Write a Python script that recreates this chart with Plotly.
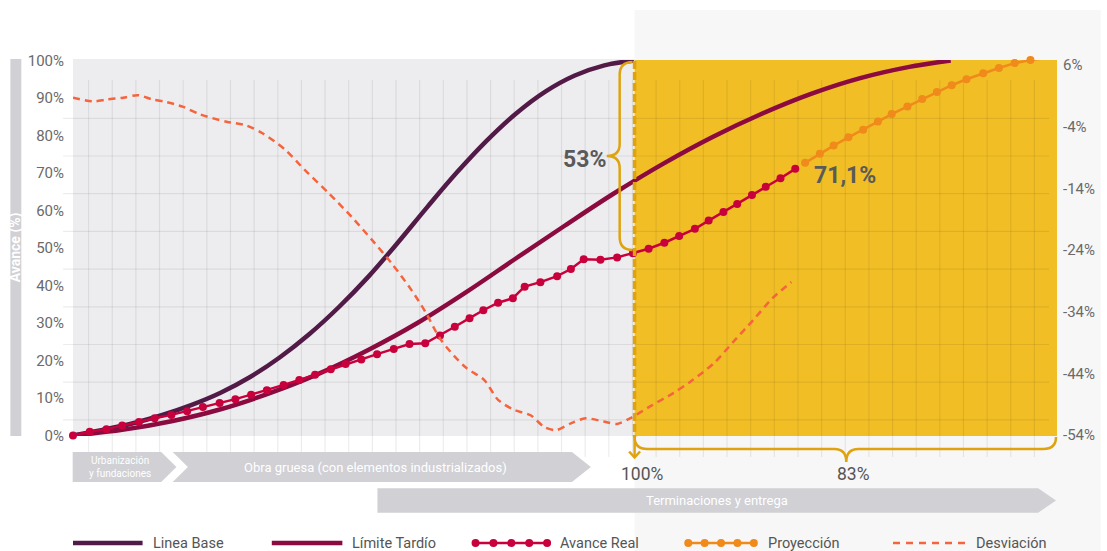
import plotly.graph_objects as go

# ---------------- data ----------------
# x = elapsed time of the project (% of the total time window shown)
tiempo_base = [0, 3, 6, 9, 12, 15, 18, 21, 24, 27, 30, 33, 36, 39, 42, 45, 48, 51, 54, 57]
linea_base = [0, 1.5, 3.2, 5.4, 8.1, 11.4, 15.6, 20.8, 27.0, 34.2, 42.3, 51.4, 60.9, 70.1,
              78.5, 85.8, 91.7, 96.0, 98.7, 100]

tiempo_limite = [0, 5, 10, 15, 20, 25, 30, 35, 40, 45, 50, 55, 60, 65, 70, 75, 80, 85, 89.2]
limite_tardio = [0, 1.5, 3.8, 7.0, 11.3, 16.5, 22.8, 30.0, 38.3, 47.2, 56.0, 64.6, 72.5,
                 79.6, 85.8, 91.1, 95.3, 98.3, 100]

tiempo_real = [0, 1.7, 3.4, 5.0, 6.7, 8.3, 10.0, 11.6, 13.2, 14.9,
               16.5, 18.1, 19.7, 21.4, 23.0, 24.6, 26.2, 27.7, 29.3, 30.9,
               32.6, 34.2, 35.8, 37.3, 38.8, 40.3, 41.7, 43.2, 44.7, 45.9,
               47.5, 49.2, 50.6, 51.9, 53.6, 55.3, 56.9, 58.5, 60.1, 61.6,
               63.2, 64.6, 66.1, 67.5, 69.0, 70.4, 71.9, 73.4]
avance_real = [0, 1.0, 1.7, 2.7, 3.6, 4.6, 5.5, 6.5, 7.6, 8.7,
               9.7, 10.9, 12.1, 13.5, 14.8, 16.2, 17.7, 19.1, 20.3, 21.7,
               23.1, 24.4, 24.6, 26.7, 29.0, 31.3, 33.4, 35.4, 36.6, 39.7,
               40.9, 42.5, 44.4, 47.0, 46.9, 47.5, 48.6, 49.8, 51.4, 53.2,
               55.1, 57.3, 59.6, 61.7, 64.1, 66.3, 68.6, 71.1]

tiempo_proy = [74.4, 75.9, 77.3, 78.8, 80.3, 81.8, 83.2, 84.8, 86.3, 87.8, 89.3,
               90.8, 92.5, 94.1, 95.7, 97.3, 99.0]
proyeccion = [72.7, 75.1, 77.3, 79.5, 81.5, 83.7, 85.7, 87.7, 89.7, 91.6, 93.4,
              95.0, 96.6, 98.0, 99.3, 100.1, 100.7]

tiempo_desv = [0, 2.1, 3.4, 5.1, 6.6, 8.1, 9.5, 11.2, 12.9, 15.6,
               17.6, 19.3, 21.6, 23.6, 26.0, 28.3, 30.4, 32.4, 34.4, 35.8,
               37.4, 39.8, 41.8, 43.2, 44.8, 46.5, 47.9, 49.1, 50.6, 52.1,
               53.9, 55.3, 56.6, 58.6, 61.0, 62.7, 65.1, 67.1, 69.1, 71.1, 73.0]
desviacion = [0.7, 0.1, 0.4, 0.7, 1.1, 0.4, 0.0, -0.8, -2.0, -3.2,
              -3.8, -5.1, -7.8, -11.1, -14.8, -18.6, -22.4, -26.2, -30.5, -34.0,
              -38.6, -42.9, -45.1, -48.3, -49.9, -50.8, -52.7, -53.2, -52.1, -51.3,
              -51.8, -52.2, -51.3, -49.4, -47.2, -45.4, -42.4, -38.9, -35.4, -31.8, -29.2]

left_ticks = [0, 10, 20, 30, 40, 50, 60, 70, 80, 90, 100]
right_ticks = [-54, -44, -34, -24, -14, -4, 6]

fases = ["Urbanización<br>y fundaciones",
         "Obra gruesa (con elementos industrializados)",
         "Terminaciones y entrega"]
series_names = ["Linea Base", "Límite Tardío", "Avance Real", "Proyección", "Desviación"]
brecha_label = "53%"
real_label = "71,1%"
base_fin_label = "100%"
restante_label = "83%"
eje_titulo = "Avance (%)"

# ---------------- styles ----------------
C_BASE = "#521a47"
C_LIM = "#8b0a40"
C_REAL = "#c8003c"
C_PROY = "#ef8a1b"
C_DESV = "#f5643c"
C_YEL = "#f1be26"
C_GOLD = "#dea30f"
C_GRAYBG = "#ededf0"
C_LIGHT = "#f7f7f7"
C_PHASE = "#d0d0d5"
FONT = "Roboto, 'Open Sans', sans-serif"

W, H = 1107, 551
PL, PR, PT, PB = 73, 1063, 60, 436


def fx(p):
    return (p - PL) / (PR - PL)


def fy(p):
    return (PB - p) / (PB - PT)


def pt(x, y):
    return f"{fx(x):.5f},{fy(y):.5f}"


def rect(x0, y0, x1, y1, color, layer="below"):
    return dict(type="rect", xref="paper", yref="paper", x0=fx(x0), x1=fx(x1),
                y0=fy(y1), y1=fy(y0), fillcolor=color, line=dict(width=0), layer=layer)


def seg(x0, y0, x1, y1, color, width, dash="solid", layer="below"):
    return dict(type="line", xref="paper", yref="paper", x0=fx(x0), x1=fx(x1),
                y0=fy(y0), y1=fy(y1), line=dict(color=color, width=width, dash=dash), layer=layer)


def poly(points, color, layer="below"):
    d = "M " + " L ".join(pt(x, y) for x, y in points) + " Z"
    return dict(type="path", xref="paper", yref="paper", path=d, fillcolor=color,
                line=dict(width=0), layer=layer)


def curve(d, color, width, layer="above"):
    return dict(type="path", xref="paper", yref="paper", path=d,
                line=dict(color=color, width=width), layer=layer)


def dot(cx, cy, r, color):
    return dict(type="circle", xref="paper", yref="paper", x0=fx(cx - r), x1=fx(cx + r),
                y0=fy(cy + r), y1=fy(cy - r), fillcolor=color, line=dict(width=0), layer="above")


shapes = []
# background panels
shapes.append(rect(638, 10, 1107, 551, C_LIGHT))
shapes.append(rect(73, 59, 638, 436, C_GRAYBG))
shapes.append(rect(638, 60, 1063, 436, C_YEL))
# decorative grid
GRID = "rgba(0,0,0,0.075)"
for k in range(9):
    yy = 118.3 + 37.7 * k
    shapes.append(seg(63, yy, 1055, yy, GRID, 1.2))
for k in range(41):
    xx = 88.7 + 23.79 * k
    shapes.append(seg(xx, 80, xx, 457, GRID, 1.2))
# phase arrows
shapes.append(poly([(72.7, 452), (161.7, 452), (177, 467), (161.7, 482), (72.7, 482)], C_PHASE))
shapes.append(poly([(173.3, 452), (575, 452), (594, 467), (575, 482), (173.3, 482), (188.6, 467)], C_PHASE))
shapes.append(poly([(379.3, 488.3), (1044, 488.3), (1062, 500.5), (1044, 512.7), (379.3, 512.7)], C_PHASE))
# y-axis title bar
shapes.append(rect(10, 59, 21, 436, C_PHASE))

# gold markers (dashed divider, braces, arrow)
shapes.append(seg(638, 61, 638, 437, C_GOLD, 3.5, dash="8px,3px", layer="above"))
shapes.append(seg(638, 437, 638, 457, C_GOLD, 2.5, layer="above"))
shapes.append(curve(f"M {pt(632.5, 451.5)} L {pt(638, 457.5)} L {pt(643.5, 451.5)}", C_GOLD, 2.5))
shapes.append(curve(
    f"M {pt(638, 437)} Q {pt(638, 449)} {pt(651, 449)} L {pt(839, 449)} "
    f"Q {pt(851, 449)} {pt(851, 462)} Q {pt(851, 449)} {pt(863, 449)} "
    f"L {pt(1049, 449)} Q {pt(1062, 449)} {pt(1062, 437)}", C_GOLD, 2.5))
shapes.append(curve(
    f"M {pt(636, 62)} Q {pt(623, 62)} {pt(623, 75)} L {pt(623, 144)} "
    f"Q {pt(623, 156)} {pt(610, 156)} Q {pt(623, 156)} {pt(623, 168)} "
    f"L {pt(623, 237)} Q {pt(623, 250)} {pt(636, 250)}", C_GOLD, 2.5))

# legend samples
LY = 543
shapes.append(seg(73, LY, 143, LY, C_BASE, 4.5, layer="above"))
shapes.append(seg(273, LY, 344, LY, C_LIM, 4.5, layer="above"))
shapes.append(seg(478, LY, 550, LY, C_REAL, 2.5, layer="above"))
for i in range(5):
    shapes.append(dot(478 + 18 * i, LY, 4, C_REAL))
shapes.append(seg(692, LY, 758, LY, C_PROY, 2.5, layer="above"))
for i in range(5):
    shapes.append(dot(692 + 16.5 * i, LY, 4, C_PROY))
shapes.append(seg(898, LY, 972, LY, C_DESV, 2.5, dash="7px,6px", layer="above"))

# ---------------- traces ----------------
fig = go.Figure()
common = dict(hoverinfo="skip", showlegend=False, cliponaxis=False)
fig.add_trace(go.Scatter(x=tiempo_base, y=linea_base, mode="lines", name=series_names[0],
                         line=dict(color=C_BASE, width=4.5, shape="spline", smoothing=1.0), **common))
fig.add_trace(go.Scatter(x=tiempo_limite, y=limite_tardio, mode="lines", name=series_names[1],
                         line=dict(color=C_LIM, width=4.5, shape="spline", smoothing=1.0), **common))
fig.add_trace(go.Scatter(x=tiempo_real, y=avance_real, mode="lines+markers", name=series_names[2],
                         line=dict(color=C_REAL, width=2.5), marker=dict(color=C_REAL, size=8), **common))
fig.add_trace(go.Scatter(x=tiempo_proy, y=proyeccion, mode="lines+markers", name=series_names[3],
                         line=dict(color=C_PROY, width=2.5), marker=dict(color=C_PROY, size=8), **common))
fig.add_trace(go.Scatter(x=tiempo_desv, y=desviacion, mode="lines", name=series_names[4], yaxis="y2",
                         line=dict(color=C_DESV, width=2.5, dash="7px,5px", shape="spline", smoothing=0.8),
                         **common))

# ---------------- annotations ----------------
ann = []


def text(x, y, s, size, color="#5f5f5f", anchor="center", bold=False, angle=0):
    ann.append(dict(xref="paper", yref="paper", x=fx(x), y=fy(y), text=f"<b>{s}</b>" if bold else s,
                    showarrow=False, xanchor=anchor, yanchor="middle", textangle=angle,
                    font=dict(family=FONT, size=size, color=color)))


text(587.5, 159, brecha_label, 23, "#5a5a5a", bold=True)
text(850, 175, real_label, 23, "#5a5a5a", bold=True)
text(646, 474, base_fin_label, 17.5, "#555555")
text(858, 474, restante_label, 17.5, "#555555")
text(120, 467, fases[0], 10, "white")
text(377, 467, fases[1], 13, "white")
text(721, 500.5, fases[2], 13, "white")
text(15.5, 247.5, eje_titulo, 14, "white", bold=True, angle=-90)
for xpos, name in zip([151, 352, 561, 770, 979], series_names):
    text(xpos, LY, name, 14.5, "#555555", anchor="left")

fig.update_layout(
    width=W, height=H, autosize=False,
    margin=dict(l=PL, r=W - PR, t=PT, b=H - PB, pad=0),
    paper_bgcolor="white", plot_bgcolor="rgba(0,0,0,0)",
    showlegend=False,
    font=dict(family=FONT, color="#666666"),
    xaxis=dict(range=[0, 100], visible=False, fixedrange=True),
    yaxis=dict(range=[-0.13, 100.13], tickvals=left_ticks, ticktext=[f"{v}%" for v in left_ticks],
               showgrid=False, zeroline=False, showline=False, ticks="", ticklabelstandoff=8,
               tickfont=dict(family=FONT, size=15, color="#6a6a6a")),
    yaxis2=dict(overlaying="y", side="right", range=[-54.16, 6.81], tickvals=right_ticks,
                ticktext=[f"{v}%" for v in right_ticks], showgrid=False, zeroline=False,
                showline=False, ticks="", ticklabelstandoff=5,
                tickfont=dict(family=FONT, size=15, color="#6a6a6a")),
    shapes=shapes,
    annotations=ann,
)

fig.write_html("out.html")
